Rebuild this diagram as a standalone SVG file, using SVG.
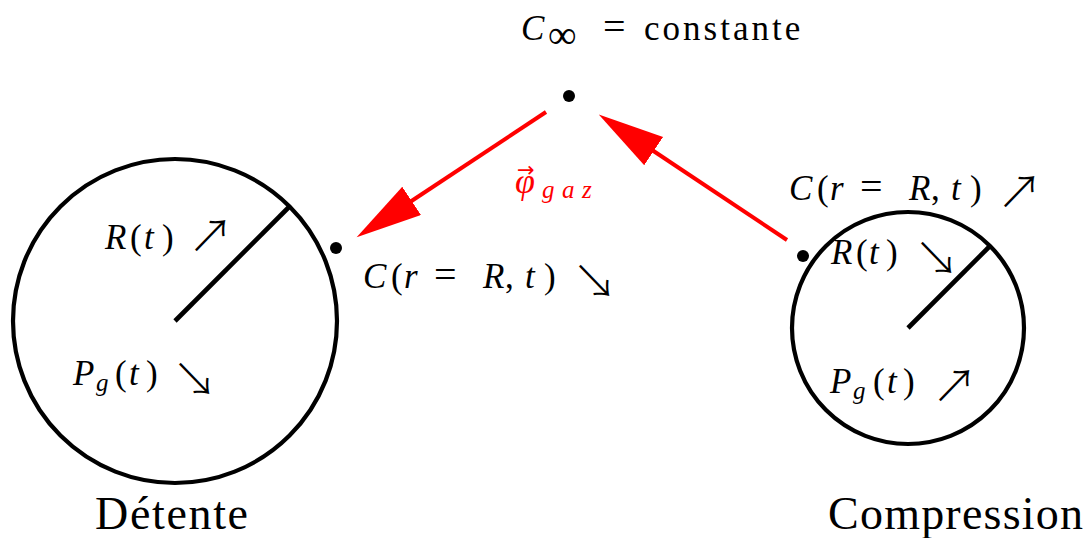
<svg xmlns="http://www.w3.org/2000/svg" width="1090" height="538" viewBox="0 0 1090 538">
<style>
.t{font-family:"Liberation Serif","DejaVu Serif",serif;font-size:35px;fill:#000}
.i{font-style:italic}
.sub{font-size:25px}
.ar{font-family:"Noto Sans CJK SC","DejaVu Sans",sans-serif;font-size:45px;font-style:normal;font-weight:200}
.big{font-size:46px}
.eq{font-size:40px}
.circ{fill:none;stroke:#000;stroke-width:4.2}
.rad{stroke:#000;stroke-width:4.6}
.dot{fill:#000}
.flux{stroke:#f00;stroke-width:4;fill:none;marker-end:url(#head)}
.red{fill:#f00}
</style>
<defs>
<marker id="head" markerUnits="userSpaceOnUse" markerWidth="70" markerHeight="36" refX="2" refY="17" orient="auto">
<path d="M0,0 L66,17 L0,34 z" fill="#f00"/>
</marker>
</defs>

<g id="infini">
<circle class="dot" cx="569" cy="96" r="6"/>
<text class="t" y="40"><tspan class="i" x="521">C</tspan><tspan x="548" y="48" font-size="40">∞</tspan><tspan class="eq" x="603" y="40">= </tspan><tspan x="644" letter-spacing="3">constante</tspan></text>
</g>

<g id="detente">
<circle class="circ" cx="175" cy="321" r="162"/>
<line class="rad" x1="175" y1="321" x2="289" y2="207"/>
<circle class="dot" cx="336" cy="248" r="6"/>
<text class="t" y="249"><tspan class="i" x="105">R</tspan><tspan x="130">(</tspan><tspan class="i" x="144">t</tspan><tspan x="162">)</tspan></text>
<text class="ar" x="188" y="253">↗</text>
<text class="t" y="385"><tspan class="i" x="73">P</tspan><tspan class="i sub" x="96" y="391">g</tspan><tspan x="115" y="385">(</tspan><tspan class="i" x="129">t</tspan><tspan x="146">)</tspan></text>
<text class="ar" x="172" y="396">↘</text>
<text class="t" y="288"><tspan class="i" x="363">C</tspan><tspan x="391">(</tspan><tspan class="i" x="404">r </tspan><tspan class="eq" x="434">= </tspan><tspan class="i" x="483">R</tspan><tspan x="505">, </tspan><tspan class="i" x="525">t</tspan><tspan x="544">)</tspan></text>
<text class="ar" x="572" y="298">↘</text>
<text class="t big" x="95" y="529" textLength="153" lengthAdjust="spacing">Détente</text>
</g>

<g id="compression">
<circle class="circ" cx="908" cy="328" r="116"/>
<line class="rad" x1="908" y1="328" x2="990" y2="246"/>
<circle class="dot" cx="803" cy="256" r="6"/>
<text class="t" y="200"><tspan class="i" x="789">C</tspan><tspan x="817">(</tspan><tspan class="i" x="830">r </tspan><tspan class="eq" x="860">= </tspan><tspan class="i" x="909">R</tspan><tspan x="931">, </tspan><tspan class="i" x="951">t</tspan><tspan x="970">)</tspan></text>
<text class="ar" x="997" y="209">↗</text>
<text class="t" y="264"><tspan class="i" x="831">R</tspan><tspan x="856">(</tspan><tspan class="i" x="869">t</tspan><tspan x="886">)</tspan></text>
<text class="ar" x="914" y="275">↘</text>
<text class="t" y="393"><tspan class="i" x="830">P</tspan><tspan class="i sub" x="853" y="399">g</tspan><tspan x="873" y="393">(</tspan><tspan class="i" x="887">t</tspan><tspan x="903">)</tspan></text>
<text class="ar" x="932" y="403">↗</text>
<text class="t big" x="828" y="529" textLength="255" lengthAdjust="spacing">Compression</text>
</g>

<g id="connecteurs">
<line class="flux" x1="546" y1="112" x2="410" y2="202"/>
<line class="flux" x1="787" y1="240" x2="652" y2="150"/>
<text class="t red" y="193"><tspan class="i" x="515" font-size="36">φ</tspan><tspan x="517" y="177" font-family="DejaVu Sans, sans-serif" font-size="21">→</tspan><tspan class="i sub" x="542 562 582" y="198">gaz</tspan></text>
</g>
</svg>
